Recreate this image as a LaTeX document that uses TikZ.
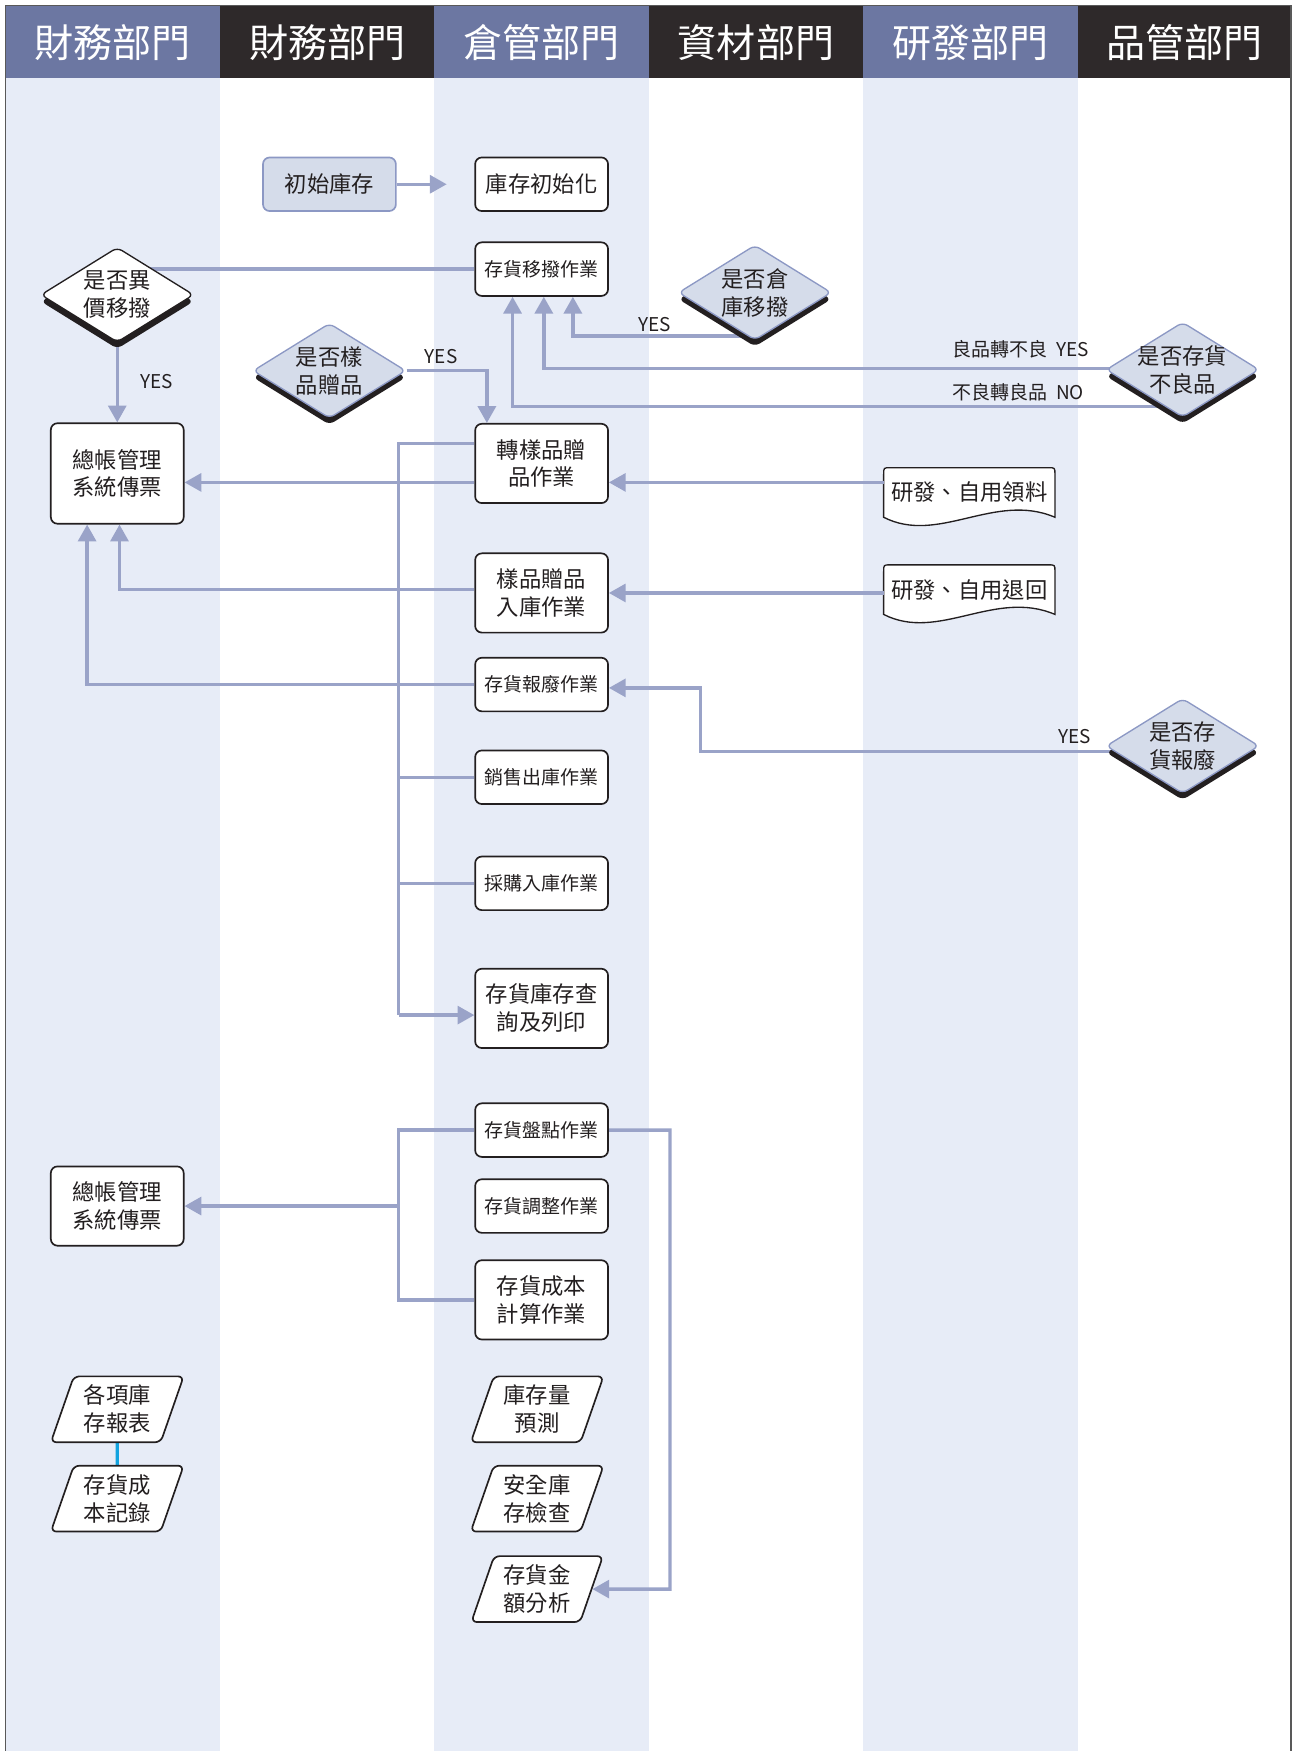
\documentclass[tikz,border=0pt]{standalone}
\usepackage{fontspec}
\setmainfont{Noto Sans CJK TC}
\usepackage{tikz}
\usetikzlibrary{shapes.geometric}
\usetikzlibrary{arrows.meta}
\usetikzlibrary{positioning}
\usetikzlibrary{shadows}

\definecolor{headblue}{RGB}{108,119,162}
\definecolor{headdark}{RGB}{46,41,42}
\definecolor{lanefill}{RGB}{231,236,247}
\definecolor{linkcol}{RGB}{154,163,200}
\definecolor{softfill}{RGB}{213,220,234}
\definecolor{softline}{RGB}{140,152,196}
\definecolor{inkline}{RGB}{35,31,32}
\definecolor{tiecyan}{RGB}{18,163,223}

\pgfdeclarelayer{lanes}
\pgfdeclarelayer{links}
\pgfsetlayers{lanes,links,main}

\begin{document}
\begin{tikzpicture}[
  x=1pt, y=-1pt,
  every node/.style={font=\fontsize{20}{25}\selectfont, align=center, inner sep=0pt, text=inkline},
  box/.style={rectangle, rounded corners=6pt, draw=inkline, line width=1.5pt, fill=white, minimum width=119pt, minimum height=48pt},
  tallbox/.style={box, minimum height=71pt},
  small/.style={font=\fontsize{17}{22}\selectfont},
  softbox/.style={box, draw=softline, fill=softfill},
  ask/.style={diamond, shape aspect=1.6, rounded corners=5pt, inner xsep=-12pt, inner ysep=0pt, minimum width=137pt, minimum height=85pt, line width=1.2pt, drop shadow={shadow xshift=0pt, shadow yshift=-6pt, fill=inkline, opacity=1}},
  askwhite/.style={ask, draw=inkline, fill=white},
  askblue/.style={ask, draw=softline, fill=softfill},
  doc/.style={rectangle, minimum width=153pt, minimum height=44pt},
  docline/.style={draw=inkline, line width=1.2pt, fill=white},
  para/.style={trapezium, trapezium left angle=70, trapezium right angle=110, trapezium stretches=true, rounded corners=5pt, draw=inkline, line width=1.5pt, fill=white, minimum width=119pt, minimum height=59pt},
  link/.style={draw=linkcol, line width=3pt},
  arr/.style={link, -{Triangle[length=15pt,width=16pt]}},
  tie/.style={draw=tiecyan, line width=3pt},
  tag/.style={font=\fontsize{17}{19}\selectfont},
  head/.style={font=\fontsize{35}{40}\selectfont, text=white}
]
\useasboundingbox (0,0) rectangle (1157,1568);

\begin{pgfonlayer}{lanes}
\foreach \i/\dept/\hc/\bc in {0/財務部門/headblue/lanefill,1/財務部門/headdark/white,2/倉管部門/headblue/lanefill,3/資材部門/headdark/white,4/研發部門/headblue/lanefill,5/品管部門/headdark/white} {
  \fill[\bc] (5+192*\i,70) rectangle ++(192,1498);
  \fill[\hc] (5+192*\i,5) rectangle ++(192,65);
  \node[head] (lane\i) at (101+192*\i,38) {\dept};
}
\draw[gray!70!black, line width=1.5pt] (5,1568) -- (5,5) -- (1156,5) -- (1156,1568);
\end{pgfonlayer}

\node[softbox] (init) at (295,165) {初始庫存};
\node[box] (initz) at (485,165) {庫存初始化};
\node[box, small] (move) at (485,241) {存貨移撥作業};
\node[askwhite] (qdiff) at (105,264) {是否異\\價移撥};
\node[askblue] (qsam) at (295,332) {是否樣\\品贈品};
\node[askblue] (qwh) at (676,262) {是否倉\\庫移撥};
\node[askblue] (qbad) at (1059,331) {是否存貨\\不良品};
\node[tallbox, minimum height=90pt] (gl1) at (105,424) {總帳管理\\系統傳票};
\node[tallbox] (gift) at (485,415) {轉樣品贈\\品作業};
\node[doc] (rdpick) at (868,441) {研發、自用領料};
\node[tallbox] (giftin) at (485,531) {樣品贈品\\入庫作業};
\node[doc] (rdback) at (868,528) {研發、自用退回};
\node[box, small] (scrap) at (485,613) {存貨報廢作業};
\node[askblue] (qscrap) at (1059,668) {是否存\\貨報廢};
\node[box, small] (sale) at (485,696) {銷售出庫作業};
\node[box, small] (buy) at (485,791) {採購入庫作業};
\node[tallbox] (query) at (485,903) {存貨庫存查\\詢及列印};
\node[box, small] (count) at (485,1012) {存貨盤點作業};
\node[box, small] (adjust) at (485,1080) {存貨調整作業};
\node[tallbox] (cost) at (485,1164) {存貨成本\\計算作業};
\node[tallbox] (gl2) at (105,1080) {總帳管理\\系統傳票};
\node[para] (report) at (105,1262) {各項庫\\存報表};
\node[para] (costlog) at (105,1342) {存貨成\\本記錄};
\node[para] (fcast) at (481,1262) {庫存量\\預測};
\node[para] (safety) at (481,1342) {安全庫\\存檢查};
\node[para] (amount) at (481,1423) {存貨金\\額分析};

\node[tag] (yes1) at (140,342) {YES};
\node[tag] (yes2) at (395,319) {YES};
\node[tag] (yes3) at (586,291) {YES};
\node[tag] (yes4) at (914,313) {良品轉不良\ \ YES};
\node[tag] (no4) at (912,351) {不良轉良品\ \ NO};
\node[tag] (yes5) at (962,660) {YES};

\coordinate (initend) at (400,165);
\coordinate (scrapbend) at (627,616);
\coordinate (busa) at (357,397);
\coordinate (busb) at (357,909);
\coordinate (busc) at (357,1012);
\coordinate (busd) at (357,1164);
\coordinate (sidea) at (600,1012);
\coordinate (sideb) at (600,1423);

\begin{pgfonlayer}{links}
\foreach \d in {rdpick,rdback}
  \draw[docline] (\d.south west) -- ([yshift=-6pt]\d.north west) .. controls (\d.north west) .. ([xshift=6pt]\d.north west)
    -- ([xshift=-6pt]\d.north east) .. controls (\d.north east) .. ([yshift=-6pt]\d.north east) -- (\d.south east)
    .. controls ([xshift=-54pt,yshift=23pt]\d.south east) and ([xshift=49pt,yshift=-25pt]\d.south west) .. (\d.south west) -- cycle;
\draw[arr] (init) -- (initend);
\draw[link] (move.west) -- (move.west -| qdiff.center);
\draw[arr] (qdiff) -- (gl1);
\draw[arr] (qsam.east) -| ([xshift=-49pt]gift.north);
\draw[arr] ([yshift=-39pt]qwh.center) -| ([xshift=28pt]move.south);
\draw[arr] ([yshift=1pt]qbad.center) -| ([xshift=2pt]move.south);
\draw[arr] ([yshift=-33pt]qbad.center) -| ([xshift=-26pt]move.south);
\draw[arr] ([yshift=-17pt]gift.west) -- ([yshift=-8pt]gl1.east);
\draw[arr] ([yshift=9pt]rdpick.west) -- ([yshift=-17pt]gift.east);
\draw[arr] ([yshift=3pt]giftin.west) -| ([xshift=2pt]gl1.south);
\draw[arr] ([yshift=-3pt]rdback.west) -- (giftin.east);
\draw[arr] (scrap.west) -| ([xshift=-27pt]gl1.south);
\draw[arr] ([yshift=-5pt]qscrap.center) -| (scrapbend) -- ([yshift=-3pt]scrap.east);
\draw[link] ([yshift=18pt]gift.west) -- (busa) -- (busb);
\draw[arr] (busb) -- ([yshift=-6pt]query.west);
\draw[link] (sale.west) -- (sale.west -| busa);
\draw[link] (buy.west) -- (buy.west -| busa);
\draw[link] (count.west) -- (busc) -- (busd) -- (cost.west);
\draw[arr] (gl2.east -| busc) -- (gl2.east);
\draw[arr] (count.east) -- (sidea) -- (sideb) -- (amount.east);
\draw[tie] (report) -- (costlog);
\end{pgfonlayer}
\end{tikzpicture}
\end{document}
